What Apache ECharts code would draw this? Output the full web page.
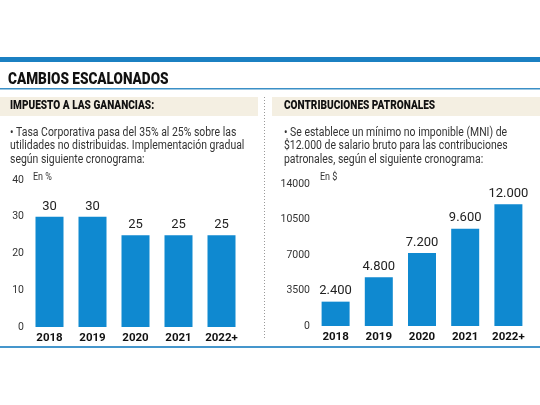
<!DOCTYPE html>
<html>
<head>
<meta charset="utf-8">
<script src="https://cdn.jsdelivr.net/npm/echarts@6/dist/echarts.min.js"></script>
<style>
  html, body { margin: 0; padding: 0; background: #fff; }
  #chart { width: 540px; height: 405px; }
</style>
</head>
<body>
<div id="chart"></div>
<script>
// datos
const years = ['2018', '2019', '2020', '2021', '2022+'];
const ganancias = [30, 30, 25, 25, 25];
const contribuciones = [2400, 4800, 7200, 9600, 12000];
const ticksGanancias = [0, 10, 20, 30, 40];
const ticksContrib = [0, 3500, 7000, 10500, 14000];

const FONT = 'Roboto, "Liberation Sans", sans-serif';
const BLUE = '#0f89d0';

function miles(v) {
    return String(v).replace(/\B(?=(\d{3})+(?!\d))/g, '.');
}

let myChart = echarts.init(document.getElementById('chart'), null, { renderer: 'canvas' });

function yAxisFor(ticks, gridIndex) {
    return {
        type: 'value',
        gridIndex: gridIndex,
        min: ticks[0],
        max: ticks[ticks.length - 1],
        interval: ticks[1] - ticks[0],
        splitLine: { show: false },
        axisLine: { show: false },
        axisTick: { show: false },
        axisLabel: {
            color: '#333', fontFamily: FONT, fontSize: 10.5, margin: 4,
            formatter: (v) => String(v)
        }
    };
}

function xAxisFor(gridIndex) {
    return {
        type: 'category',
        gridIndex: gridIndex,
        data: years,
        axisLine: { show: false },
        axisTick: { show: false },
        axisLabel: {
            interval: 0, color: '#111', fontFamily: FONT, fontSize: 11.5,
            fontWeight: 'bold', margin: 5
        }
    };
}

function barSeries(values, idx) {
    return {
        type: 'bar',
        xAxisIndex: idx,
        yAxisIndex: idx,
        data: values,
        barWidth: 28,
        itemStyle: { color: BLUE },
        label: {
            show: true,
            position: 'top',
            distance: 4,
            color: '#222',
            fontFamily: FONT,
            fontSize: 13,
            formatter: (p) => miles(p.value)
        }
    };
}

const bodyLeft = '• Tasa Corporativa pasa del 35% al 25% sobre las\nutilidades no distribuidas. Implementación gradual\nsegún siguiente cronograma:';
const bodyRight = '• Se establece un mínimo no imponible (MNI) de\n$12.000 de salario bruto para las contribuciones\npatronales, según el siguiente cronograma:';

function txt(x, y, text, font, fill, sx, lh) {
    return {
        type: 'text', x: x, y: y, scaleX: sx,
        style: { text: text, fill: fill, font: font, lineHeight: lh }
    };
}

let option = {
    backgroundColor: '#fff',
    animation: false,
    grid: [
        { left: 28, right: 297, top: 180, bottom: 78 },
        { left: 314, right: 10, top: 184, bottom: 79 }
    ],
    xAxis: [xAxisFor(0), xAxisFor(1)],
    yAxis: [yAxisFor(ticksGanancias, 0), yAxisFor(ticksContrib, 1)],
    series: [barSeries(ganancias, 0), barSeries(contribuciones, 1)],
    graphic: [
        // franja azul superior
        { type: 'rect', shape: { x: 0, y: 57, width: 540, height: 5 }, style: { fill: '#1b80c2' } },
        txt(8, 71, 'CAMBIOS ESCALONADOS', '900 17px ' + FONT, '#111', 0.8),
        { type: 'rect', shape: { x: 0, y: 88, width: 540, height: 1.5 }, style: { fill: '#3b8fc6' } },
        // bandas beige
        { type: 'rect', shape: { x: 0, y: 97, width: 258, height: 19 }, style: { fill: '#f4efe2' } },
        { type: 'rect', shape: { x: 272, y: 97, width: 268, height: 19 }, style: { fill: '#f4efe2' } },
        txt(10, 100, 'IMPUESTO A LAS GANANCIAS:', '900 12px ' + FONT, '#111', 0.84),
        txt(284, 100, 'CONTRIBUCIONES PATRONALES', '900 12px ' + FONT, '#111', 0.84),
        // separador punteado
        {
            type: 'line', shape: { x1: 264.5, y1: 97, x2: 264.5, y2: 340 },
            style: { stroke: '#999', lineWidth: 1, lineDash: [1, 2] }
        },
        txt(10, 126, bodyLeft, '12px ' + FONT, '#333', 0.87, 13.5),
        txt(284, 126, bodyRight, '12px ' + FONT, '#333', 0.87, 13.5),
        txt(33, 172, 'En %', '10px ' + FONT, '#333', 0.9),
        txt(320, 172, 'En $', '10px ' + FONT, '#333', 0.9),
        // linea inferior
        { type: 'rect', shape: { x: 0, y: 346, width: 540, height: 2 }, style: { fill: '#4596cc' } }
    ]
};

myChart.setOption(option);
</script>
</body>
</html>
